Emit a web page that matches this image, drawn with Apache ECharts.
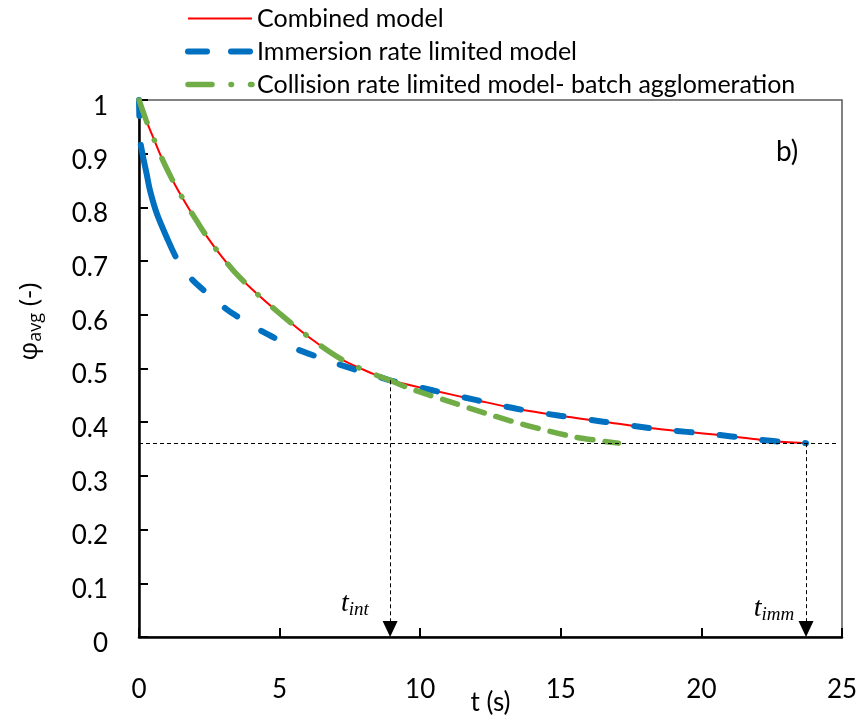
<!DOCTYPE html>
<html>
<head>
<meta charset="utf-8">
<script src="https://cdn.jsdelivr.net/npm/echarts@6/dist/echarts.min.js"></script>
<style>
  html, body { margin: 0; padding: 0; background: #ffffff; }
  #chart { width: 863px; height: 723px; }
</style>
</head>
<body>
<div id="chart"></div>
<script>
// Axis ticks
const xTicks = ['0', '5', '10', '15', '20', '25'];
const yTicks = ['0', '0.1', '0.2', '0.3', '0.4', '0.5', '0.6', '0.7', '0.8', '0.9', '1'];

// Combined model: follows the collision curve up to t_int, then the immersion curve up to t_imm
const combinedT   = [0, 0.25, 0.53, 0.87, 1.28, 1.70, 2.05, 2.41, 2.86, 3.38, 4.01, 5.01, 6.18, 7.27, 8.33, 8.93,
                     10.47, 12.01, 13.43, 14.97, 16.51, 18.17, 19.48, 20.66, 21.49, 22.14, 22.97, 23.72];
const combinedPhi = [1.000, 0.963, 0.927, 0.885, 0.842, 0.804, 0.775, 0.746, 0.714, 0.681, 0.648, 0.602, 0.553, 0.515, 0.490, 0.478,
                     0.459, 0.441, 0.425, 0.412, 0.401, 0.389, 0.382, 0.376, 0.371, 0.367, 0.363, 0.361];

// Immersion rate limited model
const immersionT   = [0, 0.02, 0.05, 0.15, 0.27, 0.39, 0.63, 0.98, 1.34, 1.81, 2.47, 3.12, 3.71, 4.42, 5.00, 5.57,
                      6.38, 7.03, 7.80, 8.57, 8.93, 10.47, 12.01, 13.43, 14.97, 16.51, 18.17, 19.48, 20.66, 21.49,
                      22.14, 22.97, 23.72];
const immersionPhi = [1.000, 0.955, 0.922, 0.893, 0.863, 0.832, 0.789, 0.745, 0.705, 0.670, 0.638, 0.610, 0.590, 0.568, 0.552, 0.537,
                      0.521, 0.509, 0.496, 0.484, 0.478, 0.459, 0.441, 0.425, 0.412, 0.401, 0.389, 0.382, 0.376, 0.371,
                      0.367, 0.363, 0.361];

// Collision rate limited model (batch agglomeration), before and after t_int
const collisionT   = [0, 0.25, 0.53, 0.87, 1.28, 1.70, 2.05, 2.41, 2.86, 3.38, 4.01, 5.01, 6.18, 7.27, 8.33, 8.93];
const collisionPhi = [1.000, 0.963, 0.927, 0.885, 0.842, 0.804, 0.775, 0.746, 0.714, 0.681, 0.648, 0.602, 0.553, 0.515, 0.490, 0.478];
const collisionTailT   = [8.93, 9.52, 10.35, 11.30, 12.36, 13.31, 14.38, 15.44, 16.30, 17.05];
const collisionTailPhi = [0.478, 0.465, 0.450, 0.434, 0.416, 0.401, 0.386, 0.373, 0.366, 0.361];

// Characteristic times and the final plateau value
const tInt = 8.93;
const phiInt = 0.478;
const tImm = 23.72;
const phiEnd = 0.361;
const phiLineEndT = 24.85;

const seriesNames = ['Combined model', 'Immersion rate limited model', 'Collision rate limited model- batch agglomeration'];

const zip = (xs, ys) => xs.map((x, i) => [x, ys[i]]);

// Line styles
const RED = '#ff0000', BLUE = '#0070c0', GREEN = '#70ad47';
// the immersion curve opens with a short dash and one long stroke before the regular dashes
const blueDash = [16, 29, 117, 29];
for (let i = 0; i < 40; i++) blueDash.push(15, 28);
const greenDash = [24, 19, 0.5, 19];
const greenTailDash = [15.5, 12.5];

const FONT = 'Lato';
const chart = echarts.init(document.getElementById('chart'), null, { renderer: 'canvas' });

const arrowEnd = 0.015;

chart.setOption({
  animation: false,
  backgroundColor: '#ffffff',
  grid: {
    left: 139, top: 100, right: 21, bottom: 86,
    containLabel: false, outerBoundsMode: 'none',
    show: true, borderColor: '#5a5a5a', borderWidth: 1.5, backgroundColor: 'transparent'
  },
  legend: {
    data: [
      { name: seriesNames[0], lineStyle: { color: RED, width: 2, type: 'solid' } },
      { name: seriesNames[1], lineStyle: { color: BLUE, width: 6, type: [19, 24], cap: 'round' } },
      { name: seriesNames[2], lineStyle: { color: GREEN, width: 5.5, type: greenDash, cap: 'round' } }
    ],
    orient: 'vertical',
    left: 185, top: 6, padding: 0,
    itemWidth: 64, itemHeight: 26, itemGap: 8,
    itemStyle: { opacity: 0 },
    textStyle: { fontFamily: FONT, fontSize: 25, color: '#000000' },
    selectedMode: false
  },
  xAxis: {
    type: 'value', min: 0, max: 25, interval: 5,
    name: 't (s)', nameLocation: 'middle', nameGap: 53, nameMoveOverlap: false,
    nameTextStyle: { fontFamily: FONT, fontSize: 26, color: '#000000' },
    axisLine: { onZero: false, lineStyle: { color: '#000000', width: 2.5 } },
    axisTick: { inside: true, length: 9, lineStyle: { color: '#000000', width: 2 } },
    axisLabel: {
      margin: 40, fontFamily: FONT, fontSize: 26, color: '#000000',
      formatter: v => xTicks[Math.round(v / 5)]
    },
    splitLine: { show: false }
  },
  yAxis: {
    type: 'value', min: 0, max: 1, interval: 0.1,
    name: '{p|φ}{s|avg}{p| (-)}', nameLocation: 'middle', nameGap: 94, nameMoveOverlap: false,
    nameTextStyle: {
      fontFamily: FONT, fontSize: 26, color: '#000000', padding: [0, 0, 0, 94],
      rich: {
        p: { fontFamily: 'Open Sans', fontSize: 26, color: '#000000' },
        s: { fontFamily: 'Open Sans', fontSize: 18, color: '#000000', padding: [12, 0, 0, 0] }
      }
    },
    axisLine: { onZero: false, lineStyle: { color: '#000000', width: 2.5 } },
    axisTick: { inside: true, length: 9, lineStyle: { color: '#000000', width: 2 } },
    axisLabel: {
      margin: 31, fontFamily: FONT, fontSize: 26, color: '#000000',
      verticalAlign: 'top', lineHeight: 13,
      formatter: v => yTicks[Math.round(v * 10)]
    },
    splitLine: { show: false }
  },
  graphic: [{
    type: 'text', left: 776, top: 138, silent: true,
    style: { text: 'b)', fontFamily: FONT, fontSize: 28, fill: '#000000' }
  }],
  series: [
    {
      name: seriesNames[0], type: 'line', data: zip(combinedT, combinedPhi),
      symbol: 'none', smooth: 0.3, z: 2, silent: true,
      lineStyle: { color: RED, width: 2 }, itemStyle: { color: RED }
    },
    {
      name: seriesNames[1], type: 'line', data: zip(immersionT, immersionPhi),
      symbol: 'none', smooth: 0.3, z: 3, silent: true,
      lineStyle: { color: BLUE, width: 6, type: blueDash, cap: 'round' }, itemStyle: { color: BLUE }
    },
    {
      name: seriesNames[2], type: 'line', data: zip(collisionT, collisionPhi),
      symbol: 'none', smooth: 0.3, z: 4, silent: true,
      lineStyle: { color: GREEN, width: 5.5, type: greenDash, cap: 'round' }, itemStyle: { color: GREEN }
    },
    {
      name: 'collision-tail', type: 'line', data: zip(collisionTailT, collisionTailPhi),
      symbol: 'none', smooth: 0.3, z: 4, silent: true,
      lineStyle: { color: GREEN, width: 5.5, type: greenTailDash, cap: 'round' }
    },
    {
      name: 'guides', type: 'line', data: [], silent: true, z: 1,
      markLine: {
        silent: true, animation: false,
        label: { show: false },
        lineStyle: { color: '#000000', width: 1, type: [4, 3] },
        data: [
          [{ coord: [0, phiEnd], symbol: 'none' }, { coord: [phiLineEndT, phiEnd], symbol: 'none' }],
          [{ coord: [tInt, phiInt], symbol: 'none' }, { coord: [tInt, arrowEnd], symbol: 'triangle', symbolSize: [15, 16] }],
          [{ coord: [tImm, phiEnd], symbol: 'none' }, { coord: [tImm, arrowEnd], symbol: 'triangle', symbolSize: [15, 16] }]
        ]
      },
      markPoint: {
        silent: true, symbolSize: 0, animation: false,
        label: {
          show: true, position: 'inside', color: '#000000',
          formatter: p => '{t|t}{s|' + p.name + '}',
          rich: {
            t: { fontFamily: 'Liberation Serif', fontStyle: 'italic', fontSize: 28, color: '#000000' },
            s: { fontFamily: 'Liberation Serif', fontStyle: 'italic', fontSize: 19, color: '#000000', padding: [12, 0, 0, 0] }
          }
        },
        data: [
          { name: 'int', coord: [7.68, 0.062] },
          { name: 'imm', coord: [22.58, 0.052] }
        ]
      }
    }
  ]
});
</script>
</body>
</html>
